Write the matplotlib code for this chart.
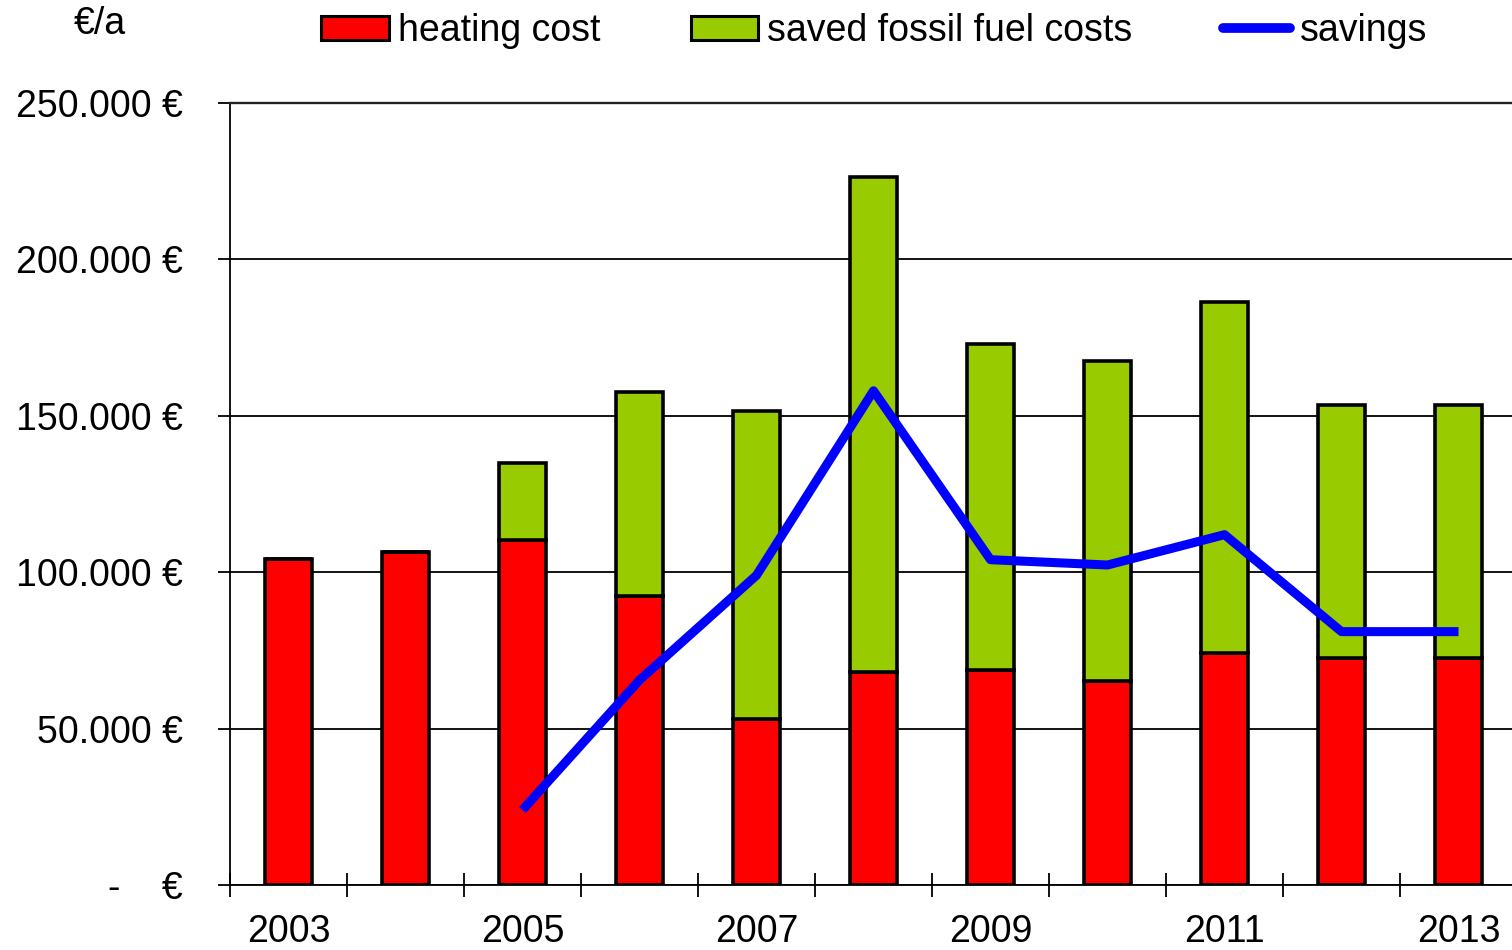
import matplotlib
matplotlib.use("Agg")
import matplotlib.pyplot as plt
import numpy as np
from matplotlib.patches import Patch
from matplotlib.lines import Line2D
from matplotlib.ticker import FuncFormatter, FixedLocator

plt.rcParams['font.family'] = ['Liberation Sans', 'DejaVu Sans']

years = ["2003", "2004", "2005", "2006", "2007", "2008", "2009", "2010", "2011", "2012", "2013"]
heating_cost = [104200, 106500, 110300, 92400, 53100, 68100, 68700, 65200, 74200, 72600, 72600]
saved_fossil = [0, 0, 24600, 65200, 98400, 158200, 104300, 102300, 112200, 80900, 80900]
savings_years = ["2005", "2006", "2007", "2008", "2009", "2010", "2011", "2012", "2013"]
savings = [24000, 65500, 99000, 158000, 104000, 102300, 112000, 81000, 81000]
y_ticks = [0, 50000, 100000, 150000, 200000, 250000]

RED = "#FF0000"
GREEN = "#99CC00"
BLUE = "#0000FF"
FS = 27

fig = plt.figure(figsize=(15.12, 9.5), dpi=100)
ax = fig.add_axes([230/1512, 65/950, 1287/1512, 782/950])

x = np.arange(len(years))
w = 0.41
ax.bar(x, heating_cost, w, color=RED, edgecolor="black", linewidth=2.6, zorder=3)
ax.bar(x, saved_fossil, w, bottom=heating_cost, color=GREEN, edgecolor="black", linewidth=2.6, zorder=3)

sx = [years.index(y) for y in savings_years]
ax.plot(sx, savings, color=BLUE, linewidth=6.5, solid_capstyle="butt", solid_joinstyle="round", zorder=4)

ax.set_xlim(-0.5, len(years) - 0.5)
ax.set_ylim(0, 250000)

# y axis
ax.yaxis.set_major_locator(FixedLocator(y_ticks))
def fmt(v, pos):
    if v == 0:
        return "-    €"
    return f"{int(v):,}".replace(",", ".") + " €"
ax.yaxis.set_major_formatter(FuncFormatter(fmt))
ax.tick_params(axis="y", direction="out", length=9, width=1.3, pad=25, labelsize=FS, colors="black")
ax.yaxis.grid(True, color="black", linewidth=1.3, zorder=0)
ax.set_axisbelow(True)

# x axis
ax.set_xticks(x[::2])
ax.set_xticklabels([years[i] for i in range(0, len(years), 2)])
ax.set_xticks(np.arange(-0.5, len(years) + 0.5, 1.0), minor=True)
ax.tick_params(axis="x", which="major", length=0, pad=21, labelsize=FS)
ax.tick_params(axis="x", which="minor", direction="inout", length=17, width=1.3)

ax.spines["right"].set_visible(False)
ax.spines["top"].set_linewidth(1.7)
ax.spines["top"].set_color("#222222")
ax.spines["left"].set_linewidth(1.3)
ax.spines["bottom"].set_linewidth(1.3)

fig.text(100/1512, 1 - 24/950, "€/a", fontsize=FS, ha="center", va="center")

handles = [
    Patch(facecolor=RED, edgecolor="black", linewidth=2.2, label="heating cost"),
    Patch(facecolor=GREEN, edgecolor="black", linewidth=2.2, label="saved fossil fuel costs"),
    Line2D([0], [0], color=BLUE, linewidth=7, solid_capstyle="round", label="savings"),
]
fig.legend(handles=handles, loc="center", bbox_to_anchor=(874/1512, 1 - 31/950), ncol=3,
           frameon=False, fontsize=FS, handlelength=1.8, handleheight=0.6,
           handletextpad=0.25, columnspacing=2.4, borderpad=0, borderaxespad=0)

fig.savefig("out.png", dpi=100)
